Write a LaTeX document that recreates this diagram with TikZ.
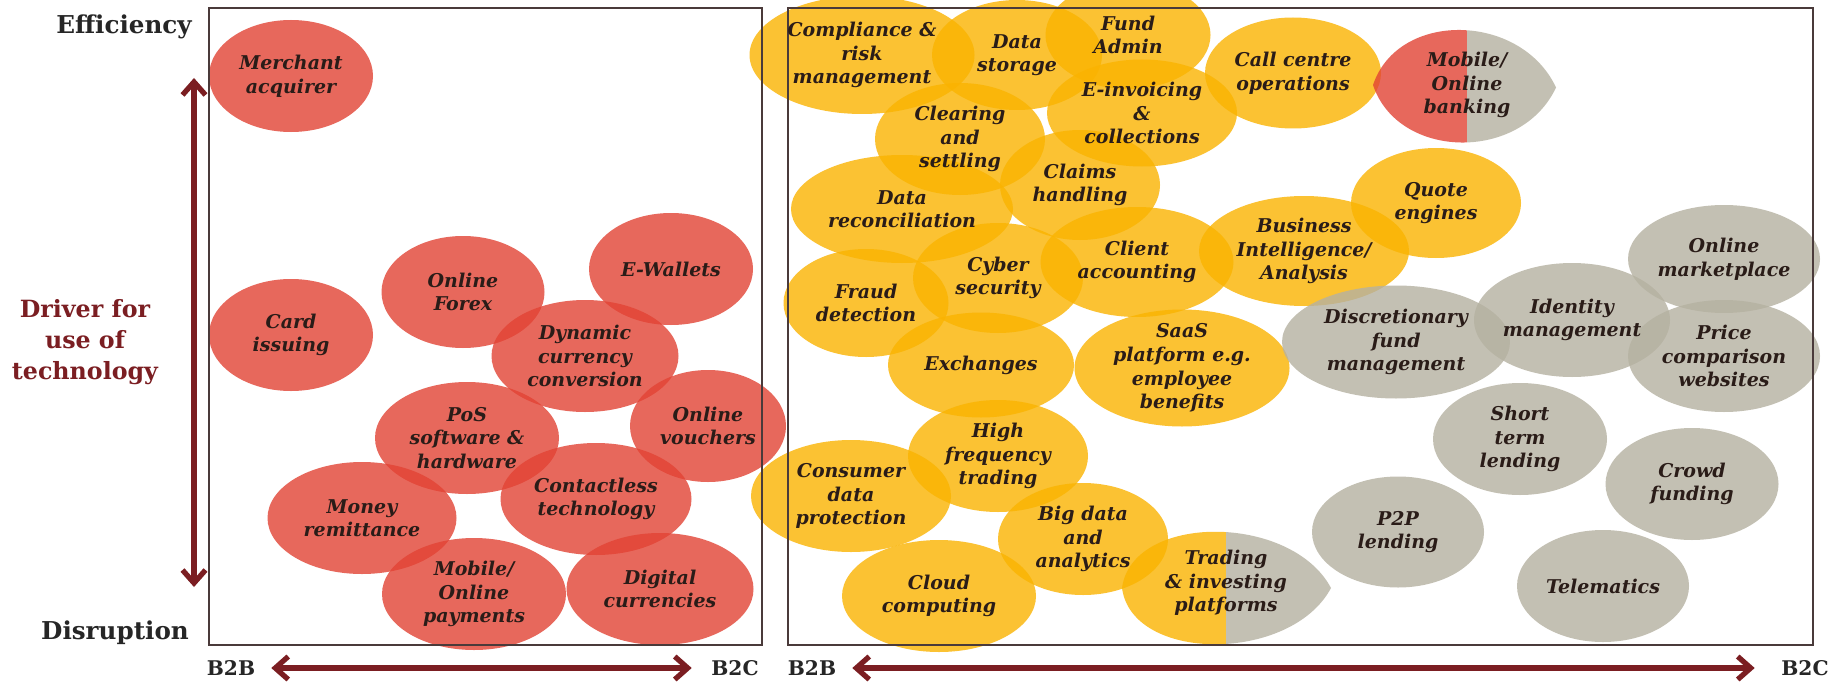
\documentclass[tikz,border=0pt]{standalone}
\usepackage{fontspec}
\setmainfont{DejaVu Serif}
\usetikzlibrary{shapes.geometric}
\usetikzlibrary{arrows.meta}
\tikzset{>={Straight Barb[length=2.6mm,width=4.6mm]}}
\definecolor{fintred}{HTML}{E24334}
\definecolor{fintyellow}{HTML}{FAB300}
\definecolor{fintgrey}{HTML}{B5B1A1}
\definecolor{axisred}{HTML}{7B1E22}
\definecolor{framegrey}{HTML}{4A3A3A}
\definecolor{ink}{HTML}{2A1C18}

\begin{document}
\begin{tikzpicture}[
    blob/.style = {ellipse, fill=#1, fill opacity=0.8, draw=none,
        inner sep=0pt},
    tag/.style = {align=center, text=ink, inner sep=0pt,
        font=\bfseries\itshape\fontsize{10.8}{13.4}\selectfont},
    pole/.style = {text=black!85, font=\bfseries\fontsize{14}{16}\selectfont},
    side/.style = {text=black!85, inner sep=1pt,
        font=\bfseries\fontsize{11.5}{13}\selectfont},
    axis/.style = {<->, axisred, line width=3pt},
    frame/.style = {draw=framegrey, line width=0.8pt}
  ]
  \useasboundingbox[fill=white] (0,0) rectangle (36.7,13.7);

  % bubbles
  \foreach \n/\x/\y/\w/\h/\c in {
      merchant/5.82/12.18/3.28/2.24/fintred, card/5.82/7.00/3.28/2.24/fintred,
      forex/9.26/7.86/3.26/2.24/fintred, ewallets/13.42/8.32/3.28/2.24/fintred,
      dynamic/11.70/6.58/3.74/2.24/fintred, vouchers/14.16/5.18/3.12/2.24/fintred,
      pos/9.34/4.94/3.68/2.24/fintred, contactless/11.92/3.72/3.82/2.24/fintred,
      remittance/7.24/3.34/3.78/2.24/fintred, payments/9.48/1.82/3.68/2.24/fintred,
      digital/13.20/1.92/3.74/2.24/fintred,
      compliance/17.24/12.60/4.50/2.36/fintyellow, storage/20.34/12.60/3.40/2.20/fintyellow,
      fundadmin/22.56/13.00/3.30/2.16/fintyellow, einvoicing/22.84/11.44/3.80/2.14/fintyellow,
      callcentre/25.86/12.24/3.52/2.22/fintyellow, clearing/19.20/10.92/3.40/2.24/fintyellow,
      claims/21.60/10.00/3.20/2.20/fintyellow, reconcile/18.04/9.52/4.44/2.16/fintyellow,
      client/22.74/8.46/3.86/2.20/fintyellow, cyber/19.96/8.14/3.40/2.20/fintyellow,
      fraud/17.32/7.64/3.30/2.16/fintyellow, bizintel/26.08/8.68/4.20/2.20/fintyellow,
      quote/28.72/9.64/3.40/2.20/fintyellow, exchanges/19.62/6.40/3.72/2.10/fintyellow,
      saas/23.64/6.34/4.30/2.34/fintyellow, hft/19.96/4.58/3.60/2.24/fintyellow,
      consumer/17.02/3.78/4.00/2.24/fintyellow, bigdata/21.66/2.92/3.40/2.24/fintyellow,
      cloud/18.78/1.78/3.88/2.24/fintyellow,
      discretionary/27.92/6.86/4.56/2.26/fintgrey, identity/31.44/7.30/3.92/2.28/fintgrey,
      marketplace/34.48/8.52/3.84/2.16/fintgrey, price/34.48/6.58/3.84/2.24/fintgrey,
      shortterm/30.40/4.92/3.48/2.24/fintgrey, crowd/33.84/4.02/3.46/2.24/fintgrey,
      p2p/27.96/3.06/3.44/2.22/fintgrey, telematics/32.06/1.98/3.44/2.24/fintgrey}
    \node[blob=\c, minimum width=\w cm, minimum height=\h cm] (\n) at (\x,\y) {};

  % two-coloured bubbles
  \coordinate (bank-l) at (27.46,12.00);
  \coordinate (bank-r) at (31.12,11.95);
  \coordinate (banking) at (29.34,12.00);
  \begin{scope}
    \clip (bank-l) .. controls +(0.5,1.5) and +(-0.7,1.5) .. (bank-r)
      .. controls +(-0.7,-1.5) and +(0.5,-1.5) .. (bank-l);
    \fill[fintred, fill opacity=0.8] (27.3,10.7) rectangle (banking |- 0,13.3);
    \fill[fintgrey, fill opacity=0.8] (banking |- 0,10.7) rectangle (31.3,13.3);
  \end{scope}
  \coordinate (trade-l) at (22.44,1.94);
  \coordinate (trade-r) at (26.62,1.94);
  \coordinate (trading) at (24.52,2.04);
  \begin{scope}
    \clip (trade-l) .. controls +(0.2,1.5) and +(-0.8,1.5) .. (trade-r)
      .. controls +(-0.8,-1.5) and +(0.2,-1.5) .. (trade-l);
    \fill[fintyellow, fill opacity=0.8] (22.3,0.6) rectangle (trading |- 0,3.3);
    \fill[fintgrey, fill opacity=0.8] (trading |- 0,0.6) rectangle (26.8,3.3);
  \end{scope}

  % panels
  \draw[frame] (4.18,0.80) rectangle (15.24,13.54);
  \draw[frame] (15.76,0.80) rectangle (36.26,13.54);

  % bubble texts
  \foreach \n/\t in {
      merchant/{Merchant\\acquirer}, card/{Card\\issuing}, forex/{Online\\Forex},
      ewallets/{E-Wallets}, dynamic/{Dynamic\\currency\\conversion},
      vouchers/{Online\\vouchers}, pos/{PoS\\software \&\\hardware},
      contactless/{Contactless\\technology}, remittance/{Money\\remittance},
      payments/{Mobile/\\Online\\payments}, digital/{Digital\\currencies},
      compliance/{Compliance \&\\risk\\management}, storage/{Data\\storage},
      fundadmin/{Fund\\Admin}, einvoicing/{E-invoicing\\\&\\collections},
      callcentre/{Call centre\\operations}, clearing/{Clearing\\and\\settling},
      claims/{Claims\\handling}, reconcile/{Data\\reconciliation},
      client/{Client\\accounting}, cyber/{Cyber\\security},
      fraud/{Fraud\\detection}, bizintel/{Business\\Intelligence/\\Analysis},
      quote/{Quote\\engines}, exchanges/{Exchanges},
      saas/{SaaS\\platform e.g.\\employee\\benefits},
      hft/{High\\frequency\\trading}, consumer/{Consumer\\data\\protection},
      bigdata/{Big data\\and\\analytics}, cloud/{Cloud\\computing},
      banking/{Mobile/\\Online\\banking}, trading/{Trading\\\& investing\\platforms},
      discretionary/{Discretionary\\fund\\management},
      identity/{Identity\\management}, marketplace/{Online\\marketplace},
      price/{Price\\comparison\\websites}, shortterm/{Short\\term\\lending},
      crowd/{Crowd\\funding}, p2p/{P2P\\lending}, telematics/{Telematics}}
    \node[tag] (t-\n) at (\n) {\t};

  % axes
  \node[pole] (eff) at (2.48,13.16) {Efficiency};
  \node[pole] (dis) at (2.30,1.04) {Disruption};
  \node[text=axisred, align=center, font=\bfseries\fontsize{13.5}{17.6}\selectfont]
    (driver) at (1.70,6.86) {Driver for\\use of\\technology};
  \coordinate (drv-top) at (3.88,12.14);
  \coordinate (drv-bot) at (3.88,1.96);
  \draw[axis] (drv-top) -- (drv-bot);

  \node[side] (b2b-l) at (4.62,0.34) {B2B};
  \node[side] (b2c-l) at (14.70,0.34) {B2C};
  \node[side] (b2b-r) at (16.24,0.34) {B2B};
  \node[side] (b2c-r) at (36.10,0.34) {B2C};
  \draw[axis, shorten <=8pt, shorten >=10pt] (b2b-l) -- (b2c-l);
  \draw[axis, shorten <=8pt, shorten >=14pt] (b2b-r) -- (b2c-r);
\end{tikzpicture}
\end{document}
